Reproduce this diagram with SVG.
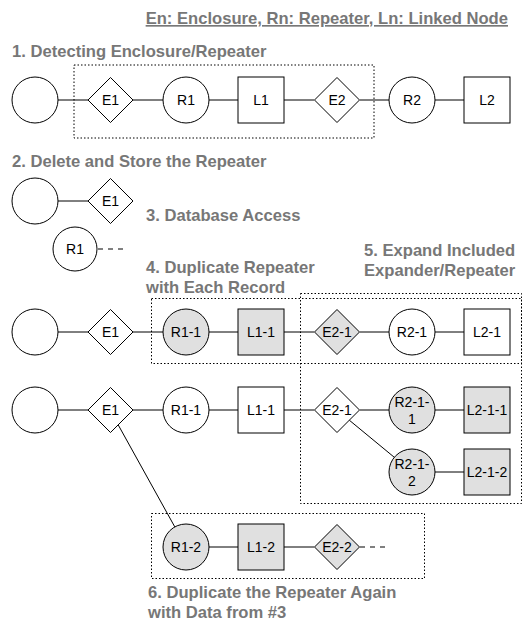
<svg xmlns="http://www.w3.org/2000/svg" width="524" height="622" viewBox="0 0 524 622">
<style>
.n{fill:#fff;stroke:#000;stroke-width:1}
.g{fill:#e0e0e0;stroke:#000;stroke-width:1}
.t{font-family:"Liberation Sans",Arial,sans-serif;font-size:14px;fill:#000;text-anchor:middle;dominant-baseline:central}
.h{font-family:"Liberation Sans",Arial,sans-serif;font-size:16.6px;font-weight:bold;fill:#777}
.c{stroke:#000;stroke-width:1;fill:none}
.d{stroke:#000;stroke-width:1;fill:none;stroke-dasharray:5 5}
.box{fill:none;stroke:#000;stroke-width:1;stroke-dasharray:1.5 2}
</style>
<rect width="524" height="622" fill="#fff"/>
<g id="labels">
<text class="h" x="508" y="24" text-anchor="end" text-decoration="underline">En: Enclosure, Rn: Repeater, Ln: Linked Node</text>
<text class="h" x="12" y="57">1. Detecting Enclosure/Repeater</text>
<text class="h" x="12" y="167">2. Delete and Store the Repeater</text>
<text class="h" x="146" y="221">3. Database Access</text>
<text class="h" x="146" y="273">4. Duplicate Repeater</text>
<text class="h" x="146" y="293">with Each Record</text>
<text class="h" x="364" y="256">5. Expand Included</text>
<text class="h" x="364" y="276">Expander/Repeater</text>
<text class="h" x="148" y="598">6. Duplicate the Repeater Again</text>
<text class="h" x="148" y="618">with Data from #3</text>
</g>
<g id="boxes">
<rect class="box" x="74" y="65" width="300" height="73"/>
<rect class="box" x="151.5" y="298.5" width="370" height="65"/>
<rect class="box" x="300.5" y="293.5" width="221" height="210"/>
<rect class="box" x="151.5" y="513.5" width="273" height="65"/>
</g>
<g id="connectors">
<line class="c" x1="58" y1="100" x2="88" y2="100"/>
<line class="c" x1="133" y1="100" x2="163" y2="100"/>
<line class="c" x1="209" y1="100" x2="238" y2="100"/>
<line class="c" x1="284" y1="100" x2="314" y2="100"/>
<line class="c" x1="360" y1="100" x2="389" y2="100"/>
<line class="c" x1="435" y1="100" x2="464" y2="100"/>
<line class="c" x1="58" y1="201" x2="88" y2="201"/>
<line class="d" x1="98" y1="249" x2="125" y2="249"/>
<line class="c" x1="58" y1="332" x2="88" y2="332"/>
<line class="c" x1="133" y1="332" x2="163" y2="332"/>
<line class="c" x1="209" y1="332" x2="238" y2="332"/>
<line class="c" x1="284" y1="332" x2="314" y2="332"/>
<line class="c" x1="360" y1="332" x2="389" y2="332"/>
<line class="c" x1="435" y1="332" x2="464" y2="332"/>
<line class="c" x1="58" y1="410" x2="88" y2="410"/>
<line class="c" x1="133" y1="410" x2="163" y2="410"/>
<line class="c" x1="209" y1="410" x2="238" y2="410"/>
<line class="c" x1="284" y1="410" x2="314" y2="410"/>
<line class="c" x1="360" y1="410" x2="389" y2="410"/>
<line class="c" x1="435" y1="410" x2="464" y2="410"/>
<line class="c" x1="435" y1="472" x2="464" y2="472"/>
<line class="c" x1="349.3" y1="420.2" x2="394.3" y2="457.3"/>
<line class="c" x1="118" y1="424.5" x2="174.8" y2="526.9"/>
<line class="c" x1="209" y1="547" x2="238" y2="547"/>
<line class="c" x1="284" y1="547" x2="314" y2="547"/>
<line class="d" x1="360" y1="547" x2="390" y2="547"/>
</g>
<g id="r1-root"><circle class="n" cx="35" cy="100" r="23"/></g>
<g id="r1-E1"><polygon class="n" points="110.5,77.5 133,100 110.5,122.5 88,100"/><text class="t" x="110.5" y="100">E1</text></g>
<g id="r1-R1"><circle class="n" cx="186" cy="100" r="23"/><text class="t" x="186" y="100">R1</text></g>
<g id="r1-L1"><rect class="n" x="238" y="77" width="46" height="46"/><text class="t" x="261" y="100">L1</text></g>
<g id="r1-E2"><polygon class="n" points="337,77.5 359.5,100 337,122.5 314.5,100"/><text class="t" x="337" y="100">E2</text></g>
<g id="r1-R2"><circle class="n" cx="412" cy="100" r="23"/><text class="t" x="412" y="100">R2</text></g>
<g id="r1-L2"><rect class="n" x="464" y="77" width="46" height="46"/><text class="t" x="487" y="100">L2</text></g>
<g id="r2-root"><circle class="n" cx="35" cy="201" r="23"/></g>
<g id="r2-E1"><polygon class="n" points="110.5,178.5 133,201 110.5,223.5 88,201"/><text class="t" x="110.5" y="201">E1</text></g>
<g id="r2-R1"><circle class="n" cx="75" cy="249" r="22"/><text class="t" x="75" y="249">R1</text></g>
<g id="r3-root"><circle class="n" cx="35" cy="332" r="23"/></g>
<g id="r3-E1"><polygon class="n" points="110.5,309.5 133,332 110.5,354.5 88,332"/><text class="t" x="110.5" y="332">E1</text></g>
<g id="r3-R1-1"><circle class="g" cx="186" cy="332" r="23"/><text class="t" x="186" y="332">R1-1</text></g>
<g id="r3-L1-1"><rect class="g" x="238" y="309" width="46" height="46"/><text class="t" x="261" y="332">L1-1</text></g>
<g id="r3-E2-1"><polygon class="g" points="337,309.5 359.5,332 337,354.5 314.5,332"/><text class="t" x="337" y="332">E2-1</text></g>
<g id="r3-R2-1"><circle class="n" cx="412" cy="332" r="23"/><text class="t" x="412" y="332">R2-1</text></g>
<g id="r3-L2-1"><rect class="n" x="464" y="309" width="46" height="46"/><text class="t" x="487" y="332">L2-1</text></g>
<g id="r4-root"><circle class="n" cx="35" cy="410" r="23"/></g>
<g id="r4-E1"><polygon class="n" points="110.5,387.5 133,410 110.5,432.5 88,410"/><text class="t" x="110.5" y="410">E1</text></g>
<g id="r4-R1-1"><circle class="n" cx="186" cy="410" r="23"/><text class="t" x="186" y="410">R1-1</text></g>
<g id="r4-L1-1"><rect class="n" x="238" y="387" width="46" height="46"/><text class="t" x="261" y="410">L1-1</text></g>
<g id="r4-E2-1"><polygon class="n" points="337,387.5 359.5,410 337,432.5 314.5,410"/><text class="t" x="337" y="410">E2-1</text></g>
<g id="r4-R2-1-1"><circle class="g" cx="412" cy="410" r="23"/><text class="t" x="412" y="401.5">R2-1-</text><text class="t" x="412" y="418.5">1</text></g>
<g id="r4-L2-1-1"><rect class="g" x="464" y="387" width="46" height="46"/><text class="t" x="487" y="410">L2-1-1</text></g>
<g id="r5-R2-1-2"><circle class="g" cx="412" cy="472" r="23"/><text class="t" x="412" y="463.5">R2-1-</text><text class="t" x="412" y="480.5">2</text></g>
<g id="r5-L2-1-2"><rect class="g" x="464" y="449" width="46" height="46"/><text class="t" x="487" y="472">L2-1-2</text></g>
<g id="r6-R1-2"><circle class="g" cx="186" cy="547" r="23"/><text class="t" x="186" y="547">R1-2</text></g>
<g id="r6-L1-2"><rect class="g" x="238" y="524" width="46" height="46"/><text class="t" x="261" y="547">L1-2</text></g>
<g id="r6-E2-2"><polygon class="g" points="337,524.5 359.5,547 337,569.5 314.5,547"/><text class="t" x="337" y="547">E2-2</text></g>
</svg>
